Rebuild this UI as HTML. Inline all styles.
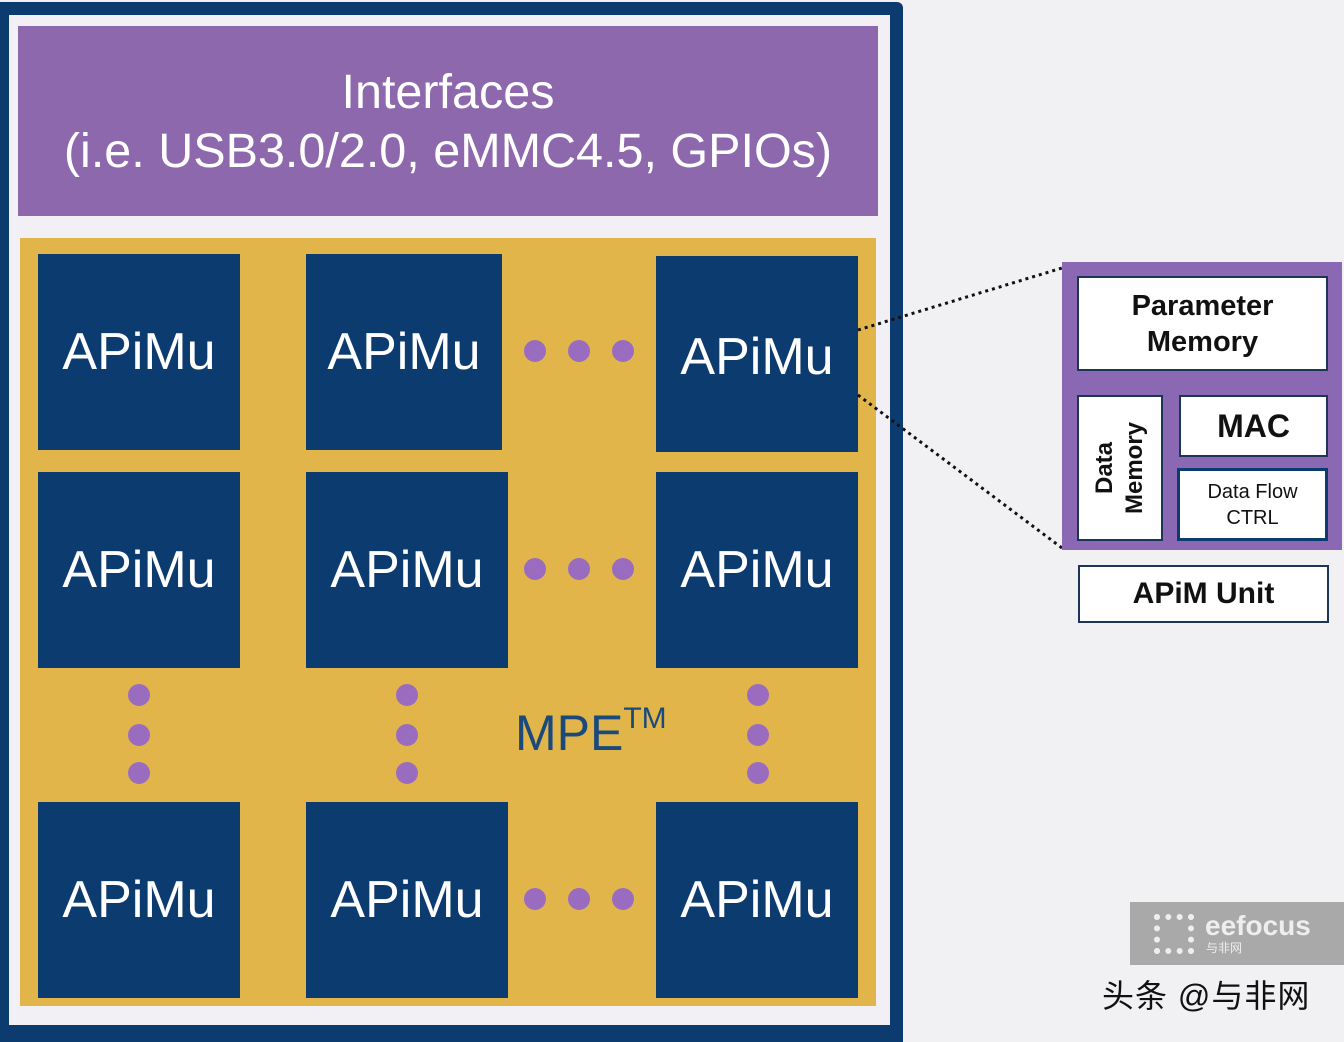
<!DOCTYPE html>
<html><head><meta charset="utf-8"><style>
body{margin:0;width:1344px;height:1038px;background:#f1f1f3;position:relative;overflow:hidden;font-family:"Liberation Sans",sans-serif}
.a{position:absolute;box-sizing:border-box}
.t{background:#0c3b70;color:#fff;font-size:52px;display:flex;align-items:center;justify-content:center}
.d{position:absolute;width:22px;height:22px;border-radius:50%;background:#9a6cbf;margin:-11px 0 0 -11px}
.w{background:#fff;border:2px solid #1d3557;display:flex;align-items:center;justify-content:center;text-align:center;font-weight:bold;color:#111}
</style></head><body>
<div class="a" style="left:0;top:2px;width:903px;height:1040px;background:#0c3b70;border-radius:0 6px 0 0"></div>
<div class="a" style="left:9px;top:15px;width:881px;height:1010px;background:#f2f0f5"></div>
<div class="a" style="left:18px;top:26px;width:860px;height:190px;background:#8d68ad;color:#fff;font-size:48.5px;text-align:center;line-height:59px;padding-top:37px">Interfaces<br>(i.e. USB3.0/2.0, eMMC4.5, GPIOs)</div>
<div class="a" style="left:20px;top:238px;width:856px;height:768px;background:#e2b54a"></div>
<div class="a t" style="left:38px;top:254px;width:202px;height:196px">APiMu</div>
<div class="a t" style="left:306px;top:254px;width:196px;height:196px">APiMu</div>
<div class="a t" style="left:656px;top:256px;width:202px;height:196px;padding-top:6px">APiMu</div>
<div class="a t" style="left:38px;top:472px;width:202px;height:196px">APiMu</div>
<div class="a t" style="left:306px;top:472px;width:202px;height:196px">APiMu</div>
<div class="a t" style="left:656px;top:472px;width:202px;height:196px">APiMu</div>
<div class="a t" style="left:38px;top:802px;width:202px;height:196px">APiMu</div>
<div class="a t" style="left:306px;top:802px;width:202px;height:196px">APiMu</div>
<div class="a t" style="left:656px;top:802px;width:202px;height:196px">APiMu</div>
<div class="d" style="left:535px;top:351px"></div><div class="d" style="left:579px;top:351px"></div><div class="d" style="left:623px;top:351px"></div>
<div class="d" style="left:535px;top:569px"></div><div class="d" style="left:579px;top:569px"></div><div class="d" style="left:623px;top:569px"></div>
<div class="d" style="left:535px;top:899px"></div><div class="d" style="left:579px;top:899px"></div><div class="d" style="left:623px;top:899px"></div>
<div class="d" style="left:139px;top:695px"></div><div class="d" style="left:139px;top:735px"></div><div class="d" style="left:139px;top:773px"></div>
<div class="d" style="left:407px;top:695px"></div><div class="d" style="left:407px;top:735px"></div><div class="d" style="left:407px;top:773px"></div>
<div class="d" style="left:758px;top:695px"></div><div class="d" style="left:758px;top:735px"></div><div class="d" style="left:758px;top:773px"></div>
<div class="a" style="left:515px;top:702px;font-size:50px;color:#1a4a7c">MPE<sup style="font-size:30px;vertical-align:22px">TM</sup></div>
<svg class="a" style="left:0;top:0" width="1344" height="1038"><g stroke="#111" stroke-width="3" stroke-dasharray="3 4"><line x1="858" y1="330" x2="1062" y2="268"/><line x1="858" y1="395" x2="1062" y2="548"/></g></svg>
<div class="a" style="left:1062px;top:262px;width:280px;height:288px;background:#8a68b3"></div>
<div class="a w" style="left:1077px;top:276px;width:251px;height:95px;font-size:29px;line-height:36px">Parameter<br>Memory</div>
<div class="a w" style="left:1077px;top:395px;width:86px;height:146px"><div style="transform:rotate(-90deg);font-size:24px;line-height:30px;white-space:nowrap">Data<br>Memory</div></div>
<div class="a w" style="left:1179px;top:395px;width:149px;height:62px;font-size:32px">MAC</div>
<div class="a w" style="left:1177px;top:468px;width:151px;height:73px;font-size:20px;font-weight:normal;border:3px solid #0c3b70;line-height:26px">Data Flow<br>CTRL</div>
<div class="a w" style="left:1078px;top:565px;width:251px;height:58px;font-size:30px">APiM Unit</div>
<div class="a" style="left:1130px;top:902px;width:214px;height:63px;background:#a9a9a9;color:#eee"><div style="position:absolute;left:24px;top:12px;width:40px;height:40px;border:6px dotted #eee;box-sizing:border-box"></div><div style="position:absolute;left:75px;top:8px;font-size:28px;font-weight:bold">eefocus</div><div style="position:absolute;left:76px;top:37px;font-size:12px;font-family:'Noto Sans CJK SC',sans-serif">与非网</div></div>
<div class="a" style="left:1102px;top:971px;font-size:32px;letter-spacing:1px;color:#111;font-family:'Liberation Sans','Noto Sans CJK SC',sans-serif">头条 @与非网</div>
</body></html>
